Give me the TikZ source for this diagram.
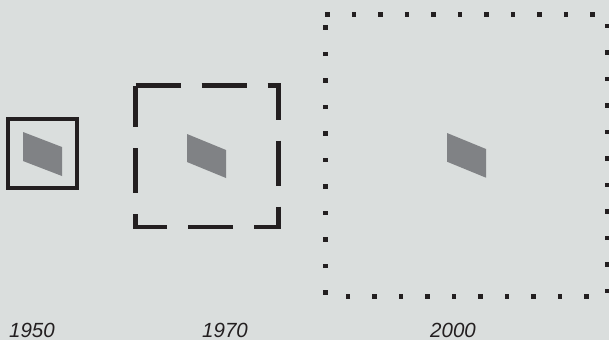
\documentclass[tikz,border=0pt]{standalone}
\usepackage{fontspec}
\setmainfont{Liberation Sans}
\definecolor{paper}{HTML}{DADEDD}
\definecolor{ink}{HTML}{231F20}
\definecolor{chip}{HTML}{808285}
\begin{document}
\begin{tikzpicture}[x=1pt,y=-1pt,
  frame/.style={draw=ink,line cap=butt,line join=miter},
  solidframe/.style={frame,line width=4pt},
  dashframe/.style={frame,line width=4.5pt,dash pattern=on 45pt off 21pt},
  dotframe/.style={frame,line width=4.5pt,dash pattern=on 4.5pt off 22pt},
  sheet/.style={fill=chip,draw=none},
  year/.style={anchor=base west,inner sep=0pt,text=ink,
    font=\fontsize{20.5}{24}\selectfont\itshape}]
  % background and page size
  \fill[paper] (0,0) rectangle (609,340);
  \useasboundingbox (0,0) rectangle (609,340);

  % 1950: small solid frame
  \draw[solidframe] (8,119.3) -- (77,119.3) -- (77,188) -- (8,188) -- cycle;
  \fill[sheet] (23,132) -- (62,147) -- (62,176) -- (23,161) -- cycle;

  % 1970: dashed frame
  \draw[dashframe] (135.5,85.5) -- (278.5,85.5) -- (278.5,227) -- (135.5,227) -- cycle;
  \fill[sheet] (187,134) -- (226,150) -- (226,178) -- (187,162) -- cycle;

  % 2000: dotted frame
  \draw[dotframe] (325.3,14.3) -- (607.5,14.3) -- (607.5,296.3) -- (325.3,296.3) -- cycle;
  \fill[sheet] (447,133) -- (486,149) -- (486,177.7) -- (447,161.7) -- cycle;

  % year labels
  \node[year] (y1950) at (9,337.8) {1950};
  \node[year] (y1970) at (202,337.8) {1970};
  \node[year] (y2000) at (430,337.8) {2000};
\end{tikzpicture}
\end{document}
